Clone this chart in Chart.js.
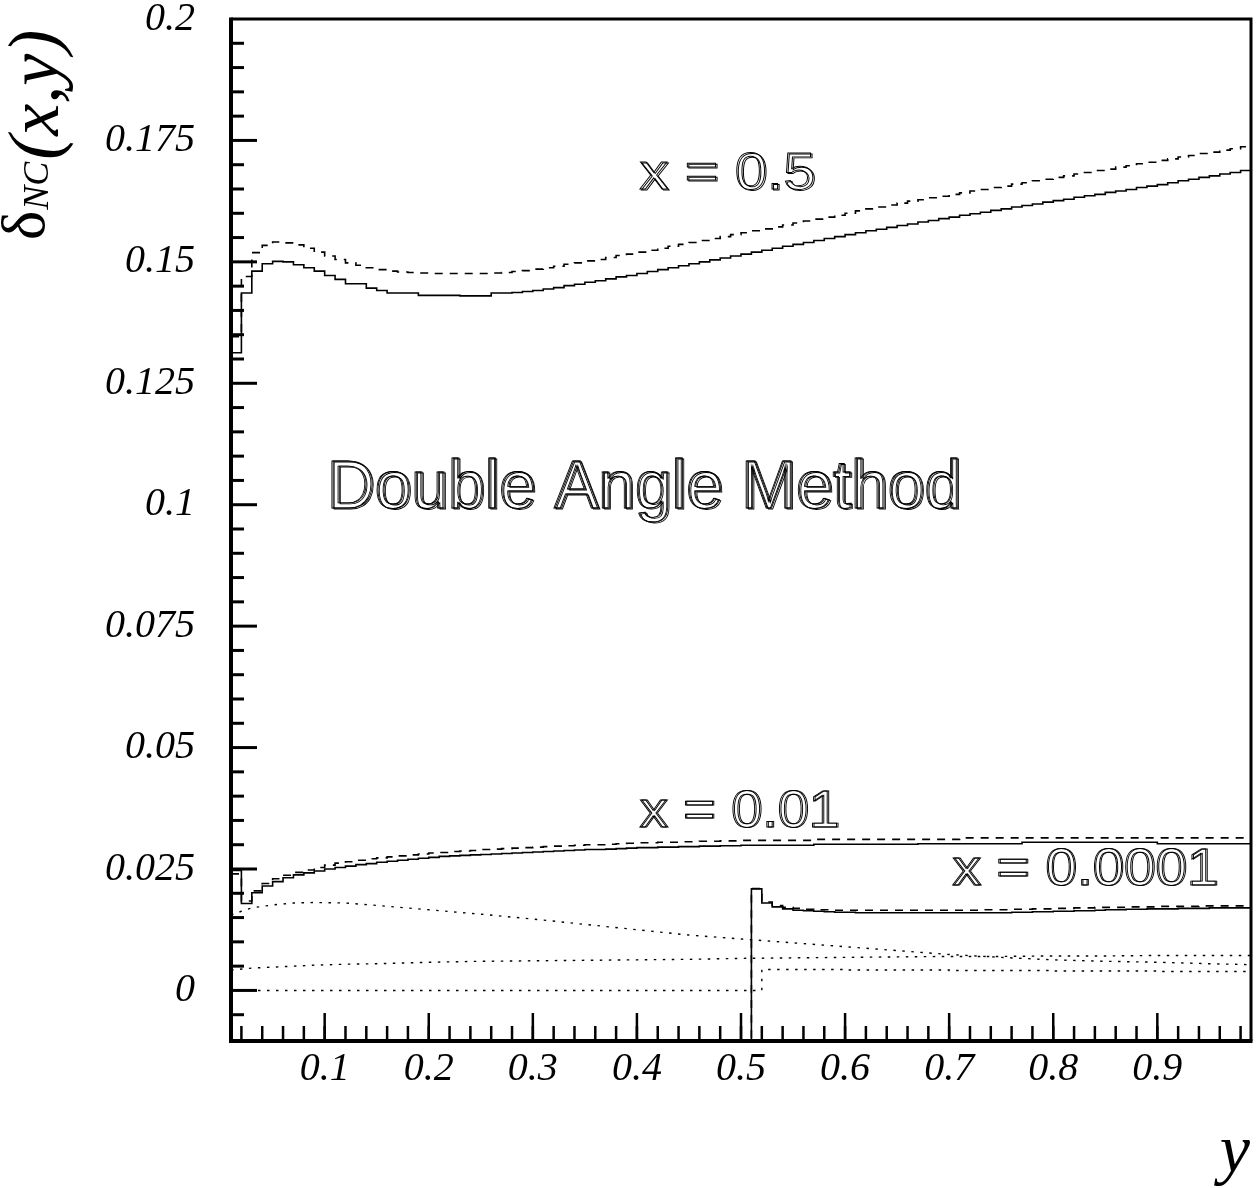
<!DOCTYPE html>
<html><head><meta charset="utf-8">
<script src="https://cdn.jsdelivr.net/npm/chart.js@4.4.1/dist/chart.umd.min.js"></script>
<style>html,body{margin:0;padding:0;background:#fff;}canvas{display:block;}</style>
</head><body>
<canvas id="c" width="1256" height="1188"></canvas>
<script>
// ---- data ----
const binLow = [0.01,0.02,0.03,0.04,0.05,0.06,0.07,0.08,0.09,0.10,
0.11,0.12,0.13,0.14,0.15,0.16,0.17,0.18,0.19,0.20,
0.21,0.22,0.23,0.24,0.25,0.26,0.27,0.28,0.29,0.30,
0.31,0.32,0.33,0.34,0.35,0.36,0.37,0.38,0.39,0.40,
0.41,0.42,0.43,0.44,0.45,0.46,0.47,0.48,0.49,0.50,
0.51,0.52,0.53,0.54,0.55,0.56,0.57,0.58,0.59,0.60,
0.61,0.62,0.63,0.64,0.65,0.66,0.67,0.68,0.69,0.70,
0.71,0.72,0.73,0.74,0.75,0.76,0.77,0.78,0.79,0.80,
0.81,0.82,0.83,0.84,0.85,0.86,0.87,0.88,0.89,0.90,
0.91,0.92,0.93,0.94,0.95,0.96,0.97,0.98];
const binTop = 0.99;

const x05Solid = [0.1313,0.1436,0.1481,0.1496,0.1501,0.1500,0.1494,0.1488,0.1481,0.1472,
0.1464,0.1455,0.1455,0.1446,0.1441,0.1436,0.1436,0.1436,0.1431,0.1431,
0.1431,0.1431,0.1430,0.1430,0.1430,0.1436,0.1436,0.1437,0.1439,0.1441,
0.1444,0.1447,0.1451,0.1454,0.1458,0.1461,0.1465,0.1469,0.1472,0.1476,
0.1480,0.1484,0.1488,0.1492,0.1496,0.1500,0.1504,0.1508,0.1512,0.1516,
0.1520,0.1524,0.1528,0.1532,0.1536,0.1540,0.1544,0.1548,0.1552,0.1556,
0.1560,0.1564,0.1567,0.1571,0.1575,0.1578,0.1582,0.1585,0.1589,0.1592,
0.1596,0.1599,0.1602,0.1606,0.1609,0.1613,0.1616,0.1619,0.1623,0.1626,
0.1629,0.1633,0.1636,0.1639,0.1643,0.1646,0.1649,0.1653,0.1656,0.1659,
0.1663,0.1667,0.1670,0.1674,0.1677,0.1681,0.1684,0.1688];

const x05Dashed = [0.1346,0.1470,0.1519,0.1534,0.1541,0.1539,0.1535,0.1528,0.1520,0.1512,
0.1505,0.1498,0.1493,0.1488,0.1484,0.1481,0.1479,0.1478,0.1477,0.1476,
0.1476,0.1476,0.1476,0.1476,0.1476,0.1477,0.1478,0.1480,0.1482,0.1485,
0.1488,0.1491,0.1495,0.1498,0.1502,0.1505,0.1509,0.1513,0.1516,0.1520,
0.1524,0.1528,0.1532,0.1536,0.1540,0.1544,0.1548,0.1552,0.1556,0.1560,
0.1564,0.1568,0.1572,0.1576,0.1580,0.1584,0.1588,0.1592,0.1596,0.1600,
0.1605,0.1609,0.1613,0.1617,0.1621,0.1625,0.1628,0.1632,0.1635,0.1639,
0.1642,0.1646,0.1649,0.1653,0.1656,0.1660,0.1663,0.1667,0.1670,0.1674,
0.1677,0.1681,0.1684,0.1688,0.1691,0.1695,0.1698,0.1702,0.1705,0.1709,
0.1712,0.1716,0.1719,0.1723,0.1726,0.1730,0.1733,0.1737];

const x001Solid = [0.0247,0.0179,0.0201,0.0215,0.0224,0.0232,0.0238,0.0242,0.0246,0.0250,
0.0253,0.0256,0.0259,0.0261,0.0264,0.0266,0.0268,0.0270,0.0272,0.0274,
0.0276,0.0277,0.0278,0.0279,0.0280,0.0281,0.0282,0.0283,0.0284,0.0285,
0.0286,0.0287,0.0288,0.0289,0.0290,0.0290,0.0291,0.0292,0.0293,0.0294,
0.0294,0.0295,0.0295,0.0296,0.0296,0.0297,0.0297,0.0298,0.0298,0.0299,
0.0299,0.0299,0.0299,0.0299,0.0299,0.0299,0.0301,0.0301,0.0301,0.0301,
0.0301,0.0301,0.0301,0.0301,0.0301,0.0301,0.0302,0.0302,0.0302,0.0302,
0.0302,0.0302,0.0302,0.0302,0.0302,0.0302,0.0305,0.0305,0.0305,0.0305,
0.0305,0.0305,0.0305,0.0305,0.0305,0.0305,0.0305,0.0305,0.0305,0.0302,
0.0302,0.0302,0.0302,0.0302,0.0302,0.0302,0.0302,0.0302];

const x001Dashed = [0.0240,0.0184,0.0205,0.0220,0.0230,0.0237,0.0243,0.0248,0.0253,0.0258,
0.0262,0.0265,0.0268,0.0271,0.0273,0.0275,0.0277,0.0279,0.0281,0.0283,
0.0284,0.0286,0.0287,0.0288,0.0290,0.0291,0.0292,0.0293,0.0294,0.0295,
0.0296,0.0297,0.0298,0.0299,0.0300,0.0300,0.0301,0.0302,0.0303,0.0304,
0.0304,0.0305,0.0305,0.0306,0.0306,0.0307,0.0307,0.0308,0.0308,0.0309,
0.0309,0.0309,0.0309,0.0309,0.0309,0.0309,0.0311,0.0311,0.0311,0.0311,
0.0311,0.0311,0.0311,0.0311,0.0311,0.0311,0.0311,0.0311,0.0311,0.0311,
0.0314,0.0314,0.0314,0.0314,0.0314,0.0314,0.0314,0.0314,0.0314,0.0314,
0.0314,0.0314,0.0314,0.0314,0.0314,0.0314,0.0314,0.0314,0.0314,0.0314,
0.0314,0.0314,0.0314,0.0314,0.0314,0.0314,0.0314,0.0314];

// x = 0.0001: below the frame (off-scale) for y < 0.51
const x00001Solid = [-0.02,-0.02,-0.02,-0.02,-0.02,-0.02,-0.02,-0.02,-0.02,-0.02,
-0.02,-0.02,-0.02,-0.02,-0.02,-0.02,-0.02,-0.02,-0.02,-0.02,
-0.02,-0.02,-0.02,-0.02,-0.02,-0.02,-0.02,-0.02,-0.02,-0.02,
-0.02,-0.02,-0.02,-0.02,-0.02,-0.02,-0.02,-0.02,-0.02,-0.02,
-0.02,-0.02,-0.02,-0.02,-0.02,-0.02,-0.02,-0.02,-0.02,-0.02,
0.0209,0.0180,0.0172,0.0168,0.0165,0.0164,0.0163,0.0162,0.0161,0.0161,
0.0160,0.0160,0.0160,0.0160,0.0160,0.0160,0.0160,0.0160,0.0160,0.0160,
0.0160,0.0160,0.0160,0.0160,0.0160,0.0161,0.0161,0.0162,0.0162,0.0163,
0.0163,0.0164,0.0164,0.0165,0.0166,0.0166,0.0167,0.0167,0.0168,0.0168,
0.0168,0.0169,0.0169,0.0169,0.0170,0.0170,0.0170,0.0170];

const x00001Dashed = [-0.02,-0.02,-0.02,-0.02,-0.02,-0.02,-0.02,-0.02,-0.02,-0.02,
-0.02,-0.02,-0.02,-0.02,-0.02,-0.02,-0.02,-0.02,-0.02,-0.02,
-0.02,-0.02,-0.02,-0.02,-0.02,-0.02,-0.02,-0.02,-0.02,-0.02,
-0.02,-0.02,-0.02,-0.02,-0.02,-0.02,-0.02,-0.02,-0.02,-0.02,
-0.02,-0.02,-0.02,-0.02,-0.02,-0.02,-0.02,-0.02,-0.02,-0.02,
0.0210,0.0182,0.0175,0.0171,0.0169,0.0167,0.0166,0.0166,0.0165,0.0165,
0.0165,0.0165,0.0165,0.0165,0.0165,0.0165,0.0165,0.0165,0.0165,0.0165,
0.0165,0.0165,0.0166,0.0166,0.0166,0.0167,0.0167,0.0168,0.0168,0.0169,
0.0169,0.0170,0.0170,0.0171,0.0171,0.0171,0.0172,0.0172,0.0172,0.0173,
0.0173,0.0173,0.0173,0.0174,0.0174,0.0174,0.0174,0.0174];

const dotX = [0.01,0.02,0.03,0.05,0.07,0.09,0.12,0.15,0.20,0.25,0.30,0.35,0.40,0.45,0.50,0.55,0.60,0.65,0.70,0.75,0.80,0.85,0.90,0.95,0.99];
const dotUpper = [0.0155,0.0163,0.0170,0.0176,0.0180,0.0181,0.0180,0.0175,0.0166,0.0157,0.0147,0.0136,0.0125,0.0114,0.0106,0.0098,0.0090,0.0082,0.0074,0.0068,0.0063,0.0060,0.0058,0.0055,0.0053];
const dotRising = [0.0042,0.0044,0.0046,0.0048,0.0050,0.0052,0.0054,0.0055,0.0058,0.0060,0.0061,0.0062,0.0063,0.0064,0.0066,0.0067,0.0068,0.0069,0.0070,0.0070,0.0071,0.0071,0.0072,0.0072,0.0072];
const stepDotX = [0.01,0.52,0.60,0.70,0.80,0.90,0.99];
const stepDotY = [0,0.0043,0.0042,0.0041,0.0040,0.0039,0.0039];

const xTickVals = [0.1,0.2,0.3,0.4,0.5,0.6,0.7,0.8,0.9];
const xTickLabels = ['0.1','0.2','0.3','0.4','0.5','0.6','0.7','0.8','0.9'];
const yTickVals = [0,0.025,0.05,0.075,0.1,0.125,0.15,0.175,0.2];
const yTickLabels = ['0','0.025','0.05','0.075','0.1','0.125','0.15','0.175','0.2'];

// ---- helpers ----
function hist(vals){
  const pts = binLow.map((b,i)=>({x:b,y:vals[i]}));
  pts.push({x:binTop,y:vals[vals.length-1]});
  return pts;
}
function pairs(xs,ys){ return xs.map((v,i)=>({x:v,y:ys[i]})); }

const SOLID = [], DASH = [8,7], DOT = [2.5,6.5];
function ds(label,data,dash,stepped,w){
  return {label,data,borderColor:'#000',borderWidth:w||1.6,borderDash:dash,pointRadius:0,
          stepped:stepped,tension:0,fill:false};
}

const decor = {
  id:'decor',
  afterDraw(chart){
    const {ctx, chartArea:a, scales:{x,y}} = chart;
    ctx.save();
    ctx.strokeStyle='#000'; ctx.fillStyle='#000';
    ctx.lineCap='butt';
    ctx.lineWidth=3;
    for(let k=-1;k<=39;k++){
      const v=Math.round(k*5)/1000; if(v<-0.0099||v>0.2001) continue;
      const major = Math.abs(v/0.025-Math.round(v/0.025))<1e-6;
      const py=y.getPixelForValue(v);
      ctx.beginPath(); ctx.moveTo(a.left,py); ctx.lineTo(a.left+(major?26:13),py); ctx.stroke();
    }
    ctx.lineWidth=2.5;
    for(let k=1;k<=49;k++){
      const v=k*0.02; if(v<0.011||v>0.989) continue;
      const px=x.getPixelForValue(v);
      ctx.beginPath(); ctx.moveTo(px,a.bottom); ctx.lineTo(px,a.bottom-13); ctx.stroke();
    }
    xTickVals.forEach(v=>{
      const px=x.getPixelForValue(v);
      ctx.beginPath(); ctx.moveTo(px,a.bottom); ctx.lineTo(px,a.bottom-26); ctx.stroke();
    });
    // frame
    ctx.lineWidth=4;
    ctx.beginPath(); ctx.moveTo(a.left,a.top-1.5); ctx.lineTo(a.left,a.bottom+2); ctx.lineTo(a.right+1.5,a.bottom+2); ctx.stroke();
    ctx.lineWidth=3;
    ctx.beginPath(); ctx.moveTo(a.left,a.top); ctx.lineTo(a.right,a.top); ctx.lineTo(a.right,a.bottom+2); ctx.stroke();

    // hollow labels
    function hollow(txt, vx, vy, size, width, offs){
      const px=x.getPixelForValue(vx), py=y.getPixelForValue(vy);
      ctx.save();
      ctx.font = size+'px "Liberation Sans"';
      const m = ctx.measureText(txt).width;
      ctx.translate(px,py); ctx.scale(width/m,1);
      ctx.lineWidth=0.9; ctx.textBaseline='alphabetic'; ctx.textAlign='left';
      offs.forEach(o=>ctx.strokeText(txt,o[0],o[1]));
      ctx.restore();
    }
    const two=[[0,0],[1.3,0.7]], three=[[0,0],[1.2,0.6],[2.4,1.2]];
    hollow('x = 0.5', 0.4023, 0.1649, 52, 176, two);
    hollow('x = 0.01', 0.4023, 0.0337, 52, 200, two);
    hollow('x = 0.0001', 0.7028, 0.0218, 52, 266, two);
    hollow('Double Angle Method', 0.1018, 0.0994, 68, 634, three);

    // axis titles
    ctx.save();
    ctx.translate(44, 240); ctx.rotate(-Math.PI/2);
    ctx.textAlign='left'; ctx.textBaseline='alphabetic';
    ctx.font='62px "Liberation Serif"';
    ctx.fillText('\u03b4',0,0);
    let w=ctx.measureText('\u03b4').width;
    ctx.font='italic 36px "Liberation Serif"';
    ctx.fillText('NC',w+1,4);
    w+=ctx.measureText('NC').width+3;
    ctx.font='italic 72px "Liberation Serif"';
    ctx.fillText('(x,y)',w,14);
    ctx.restore();

    ctx.font='italic 68px "Liberation Serif"';
    ctx.textAlign='right'; ctx.textBaseline='alphabetic';
    ctx.fillText('y',1250,1172);
    ctx.restore();
  }
};

const tickFont = {family:'"Liberation Serif"', style:'italic', size:40, lineHeight:1.2};

new Chart(document.getElementById('c'), {
  type:'line',
  data:{datasets:[
    ds('x=0.5 solid', hist(x05Solid), SOLID, true),
    ds('x=0.5 dashed', hist(x05Dashed), DASH, true),
    ds('x=0.01 solid', hist(x001Solid), SOLID, true),
    ds('x=0.01 dashed', hist(x001Dashed), DASH, true),
    ds('x=0.0001 solid', hist(x00001Solid), SOLID, true),
    ds('x=0.0001 dashed', hist(x00001Dashed), DASH, true),
    ds('dotted upper', pairs(dotX,dotUpper), DOT, false, 1.4),
    ds('dotted rising', pairs(dotX,dotRising), DOT, false, 1.4),
    ds('dotted step', pairs(stepDotX,stepDotY), DOT, true, 1.4)
  ]},
  options:{
    responsive:false, devicePixelRatio:1, animation:false,
    layout:{padding:{top:19,right:5,left:0,bottom:0}},
    plugins:{legend:{display:false}, tooltip:{enabled:false}, title:{display:false}},
    scales:{
      x:{type:'linear', position:'bottom', min:0.01, max:0.99,
         grid:{display:false, drawTicks:false, tickLength:0}, border:{display:false},
         ticks:{color:'#000', font:tickFont, padding:6, maxRotation:0, autoSkip:false,
                callback:(v)=>{const i=xTickVals.findIndex(t=>Math.abs(t-v)<1e-9); return i>=0?xTickLabels[i]:'';}},
         afterBuildTicks:(s)=>{s.ticks=xTickVals.map(v=>({value:v}));},
         afterFit:(s)=>{s.height=149; s.paddingLeft=0; s.paddingRight=0;}},
      y:{type:'linear', position:'left', min:-0.01, max:0.2,
         grid:{display:false, drawTicks:false, tickLength:0}, border:{display:false},
         ticks:{color:'#000', font:tickFont, padding:36, autoSkip:false,
                callback:(v)=>{const i=yTickVals.findIndex(t=>Math.abs(t-v)<1e-9); return i>=0?yTickLabels[i]:'';}},
         afterBuildTicks:(s)=>{s.ticks=yTickVals.map(v=>({value:v}));},
         afterFit:(s)=>{s.width=231; s.paddingTop=0; s.paddingBottom=0;}}
    }
  },
  plugins:[decor]
});
</script>
</body></html>
